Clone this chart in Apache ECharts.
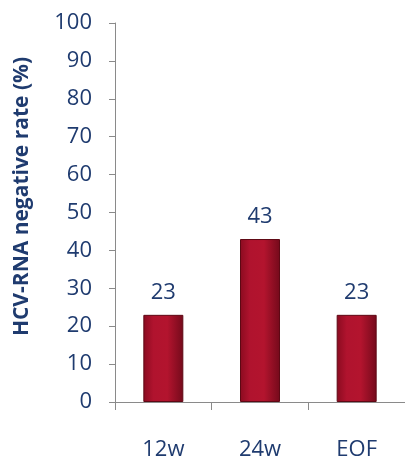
<!DOCTYPE html>
<html>
<head>
<meta charset="utf-8">
<script src="https://cdn.jsdelivr.net/npm/echarts@6/dist/echarts.min.js"></script>
<style>
  html, body { margin: 0; padding: 0; background: #ffffff; }
  #chart { width: 405px; height: 461px; }
</style>
</head>
<body>
<div id="chart"></div>
<script>
// Time points and the share of patients with undetectable HCV-RNA
const categories = ['12w', '24w', 'EOF'];
const negativeRate = [23, 43, 23];
const yTicks = [0, 10, 20, 30, 40, 50, 60, 70, 80, 90, 100];

const textColor = '#1f3b6f';
const fontFamily = '"Open Sans", sans-serif';

const barFill = new echarts.graphic.LinearGradient(0, 0, 1, 0, [
  { offset: 0, color: '#8a0b20' },
  { offset: 0.25, color: '#b0132e' },
  { offset: 0.6, color: '#b3142e' },
  { offset: 1, color: '#740a1b' }
]);

const chart = echarts.init(document.getElementById('chart'));
chart.setOption({
  backgroundColor: '#ffffff',
  animation: false,
  grid: { left: 115, right: -3, top: 23, bottom: 57, containLabel: false },
  xAxis: {
    type: 'category',
    data: categories,
    boundaryGap: true,
    axisLine: { lineStyle: { color: '#8a8a8a', width: 1 } },
    axisTick: { show: true, length: 8, lineStyle: { color: '#8a8a8a' } },
    axisLabel: { color: textColor, fontSize: 22, fontFamily: fontFamily, margin: 37 }
  },
  yAxis: {
    type: 'value',
    min: yTicks[0],
    max: yTicks[yTicks.length - 1],
    interval: 10,
    name: 'HCV-RNA negative rate (%)',
    nameLocation: 'middle',
    nameGap: 82,
    nameTextStyle: {
      color: textColor, fontSize: 21, fontWeight: 'bold', fontFamily: fontFamily,
      padding: [0, 0, 0, 32]
    },
    axisLine: { show: true, lineStyle: { color: '#8a8a8a', width: 1 } },
    axisTick: { show: true, length: 6, lineStyle: { color: '#8a8a8a' } },
    axisLabel: { color: textColor, fontSize: 22, fontFamily: fontFamily, margin: 23 },
    splitLine: { show: false }
  },
  series: [{
    type: 'bar',
    data: negativeRate,
    barWidth: 40,
    itemStyle: { color: barFill, borderColor: '#5e0814', borderWidth: 1 },
    label: {
      show: true,
      position: 'top',
      distance: 11,
      color: textColor,
      fontSize: 22,
      fontFamily: fontFamily
    }
  }]
});
</script>
</body>
</html>
